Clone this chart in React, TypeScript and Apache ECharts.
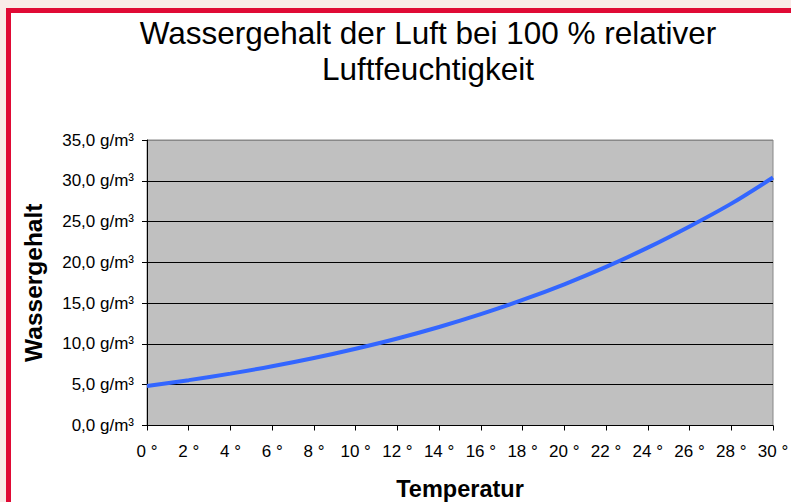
import React, { useEffect, useRef } from "react";
import * as echarts from "echarts";

const temperatures = [0, 2, 4, 6, 8, 10, 12, 14, 16, 18, 20, 22, 24, 26, 28, 30];
const waterContent = [4.85, 5.56, 6.36, 7.26, 8.27, 9.41, 10.67, 12.08, 13.65, 15.39, 17.31, 19.44, 21.8, 24.4, 27.2, 30.4];
const titleText = "Wassergehalt der Luft bei 100 % relativer\nLuftfeuchtigkeit";
const xName = "Temperatur";
const yName = "Wassergehalt";

export default function App() {
  const ref = useRef<HTMLDivElement>(null);
  useEffect(() => {
    if (!ref.current) return;
    const chart = echarts.init(ref.current, undefined, { renderer: "svg" });
    const font = "'Liberation Sans', Arial, sans-serif";
    chart.setOption({
      animation: false,
      backgroundColor: "#f9ebe8",
      textStyle: { fontFamily: font },
      graphic: [
        {
          type: "rect",
          shape: { x: 8.5, y: 10.5, width: 820, height: 540 },
          style: { fill: "#ffffff", stroke: "#e00a35", lineWidth: 5 },
          z: -10,
        },
        {
          type: "text",
          x: 428,
          y: 51,
          style: {
            text: titleText,
            align: "center",
            verticalAlign: "middle",
            font: `31.5px ${font}`,
            lineHeight: 36,
            fill: "#000",
          },
        },
      ],
      grid: {
        left: 147,
        top: 140,
        right: 18,
        bottom: 76.5,
        containLabel: false,
        outerBoundsMode: "none",
        show: true,
        backgroundColor: "#c0c0c0",
        borderColor: "#888888",
        borderWidth: 1,
      },
      xAxis: {
        type: "value",
        min: 0,
        max: 30,
        interval: 2,
        name: xName,
        nameLocation: "middle",
        nameGap: 51,
        nameTextStyle: { fontSize: 23.5, fontWeight: "bold", color: "#000", fontFamily: font },
        axisLine: { show: true, lineStyle: { color: "#000", width: 1 } },
        axisTick: { show: true, length: 5, lineStyle: { color: "#000" } },
        axisLabel: { fontSize: 17, color: "#000", margin: 17, formatter: (v: number) => `${v} °` },
        splitLine: { show: false },
      },
      yAxis: {
        type: "value",
        min: 0,
        max: 35,
        interval: 5,
        name: yName,
        nameLocation: "middle",
        nameGap: 101,
        nameTextStyle: { fontSize: 24.5, fontWeight: "bold", color: "#000", fontFamily: font },
        axisLine: { show: true, lineStyle: { color: "#000", width: 1 } },
        axisTick: { show: true, length: 5, lineStyle: { color: "#000" } },
        axisLabel: { fontSize: 17, color: "#000", margin: 13, formatter: (v: number) => `${v.toFixed(1).replace(".", ",")} g/m³` },
        splitLine: { show: true, lineStyle: { color: ["#000", "#000", "#000", "#000", "#000", "#000", "#000", "#888888"], width: 1 } },
      },
      series: [
        {
          type: "line",
          data: temperatures.map((t, i) => [t, waterContent[i]]),
          showSymbol: false,
          smooth: 0.3,
          lineStyle: { color: "#3366ff", width: 4 },
        },
      ],
    });
    return () => chart.dispose();
  }, []);
  return <div ref={ref} style={{ position: "fixed", left: 0, top: 0, width: 791, height: 502 }} />;
}
